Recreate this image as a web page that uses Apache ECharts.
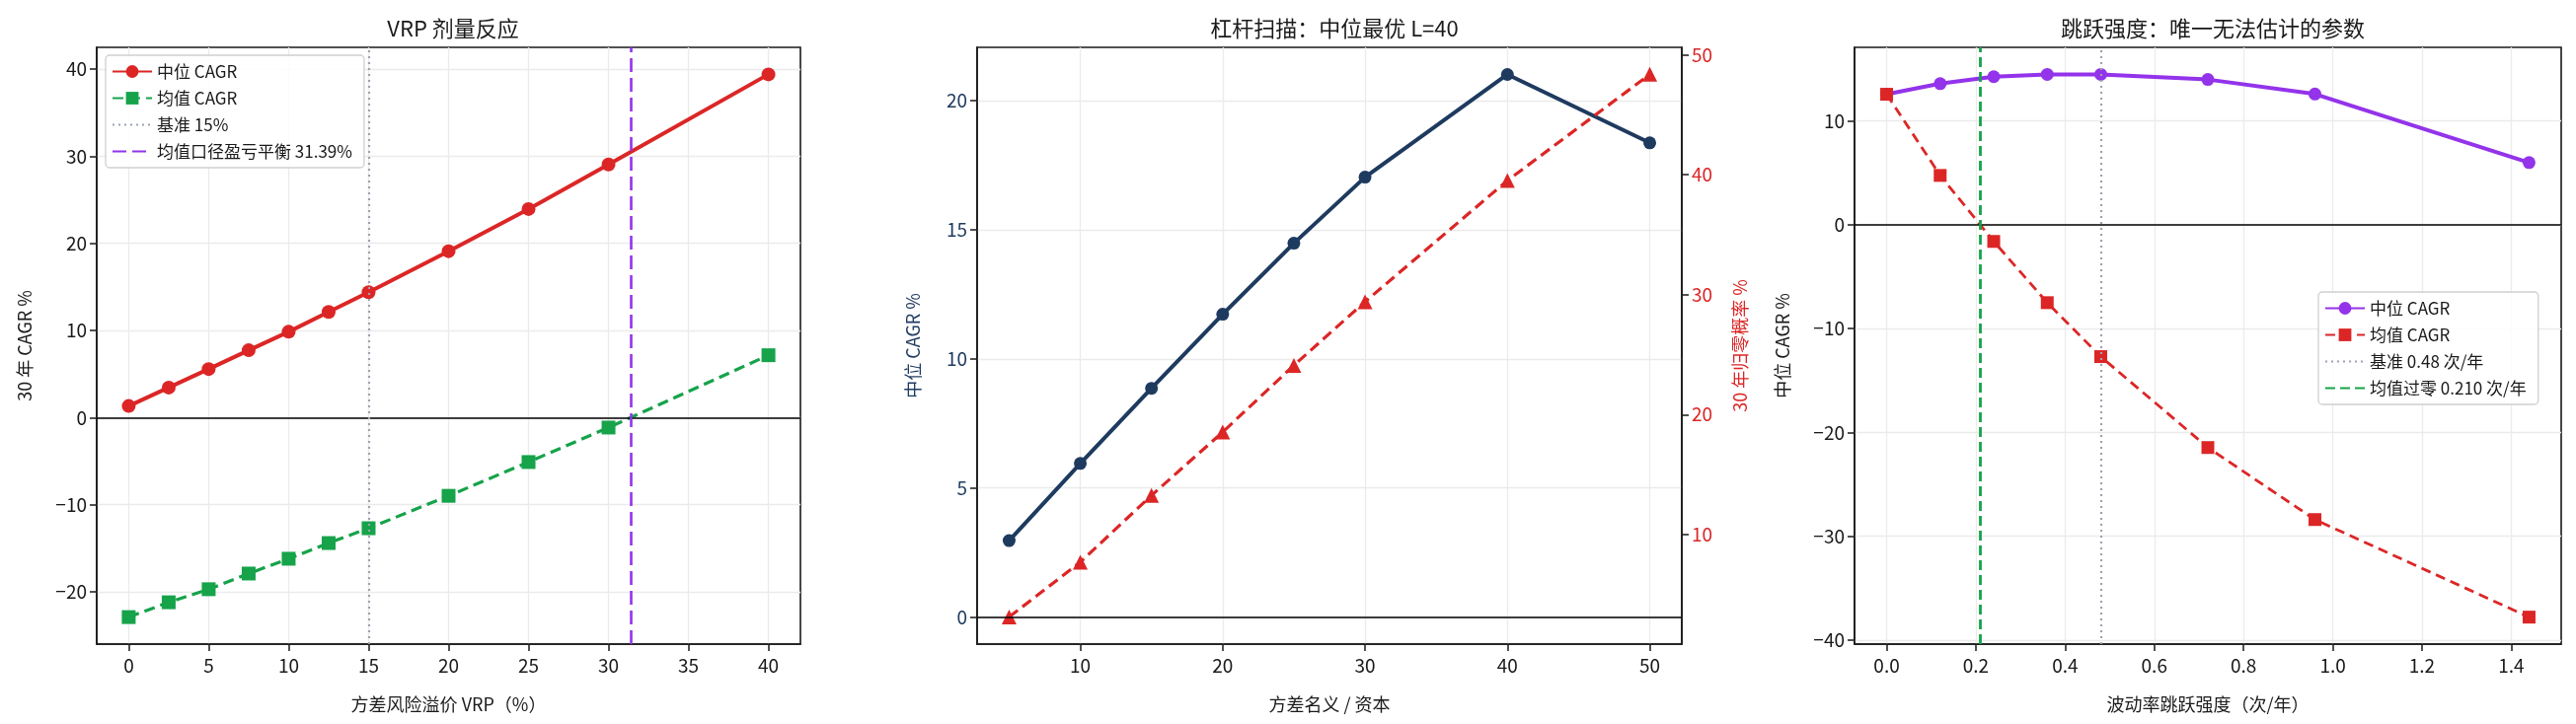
<!DOCTYPE html>
<html><head><meta charset="utf-8">
<script src="https://cdn.jsdelivr.net/npm/echarts@6/dist/echarts.min.js"></script>
<style>html,body{margin:0;padding:0;background:#fff}#c{width:2610px;height:734px}</style>
</head><body><div id="c"></div>
<script>
// ---- data ----
const vrpX = [0, 2.5, 5, 7.5, 10, 12.5, 15, 20, 25, 30, 40];
const vrpMedian = [1.33, 3.45, 5.57, 7.73, 9.85, 12.12, 14.4, 19.1, 23.94, 29.06, 39.4];
const vrpMean = [-22.9, -21.2, -19.7, -17.9, -16.2, -14.4, -12.7, -8.98, -5.1, -1.14, 7.16];
const vrpBase = 15;
const vrpBreakeven = 31.39;

const levX = [5, 10, 15, 20, 25, 30, 40, 50];
const levMedian = [2.96, 5.95, 8.86, 11.73, 14.48, 17.04, 21.02, 18.37];
const levRuin = [3.13, 7.7, 13.26, 18.54, 24.1, 29.4, 39.5, 48.35];

const jumpX = [0, 0.12, 0.24, 0.36, 0.48, 0.72, 0.96, 1.44];
const jumpMedian = [12.58, 13.6, 14.27, 14.49, 14.49, 14.0, 12.6, 6.0];
const jumpMean = [12.58, 4.76, -1.6, -7.5, -12.7, -21.46, -28.4, -37.8];
const jumpBase = 0.48;
const jumpZero = 0.210;

// tick values
const vrpXTicks = [0, 5, 10, 15, 20, 25, 30, 35, 40];
const vrpYTicks = [-20, -10, 0, 10, 20, 30, 40];
const levXTicks = [10, 20, 30, 40, 50];
const levYTicks = [0, 5, 10, 15, 20];
const levY2Ticks = [10, 20, 30, 40, 50];
const jumpXTicks = [0, 0.2, 0.4, 0.6, 0.8, 1.0, 1.2, 1.4];
const jumpYTicks = [-40, -30, -20, -10, 0, 10];

// text
const titles = ['VRP 剂量反应', '杠杆扫描：中位最优 L=40', '跳跃强度：唯一无法估计的参数'];
const xNames = ['方差风险溢价 VRP（%）', '方差名义 / 资本', '波动率跳跃强度（次/年）'];
const yNames = ['30 年 CAGR %', '中位 CAGR %', '30 年归零概率 %', '中位 CAGR %'];

// ---- style ----
const FONT = '"Noto Sans CJK SC", "Noto Sans", sans-serif';
const INK = '#1a1a1a';
const RED = '#dc2626', GREEN = '#16a34a', PURPLE = '#9333ea', NAVY = '#1e3a5f', GRAY = '#9ca3af';
const GRID_C = '#ebebeb';

const grids = [
  {left: 98, top: 48, width: 713, height: 605},
  {left: 990, top: 48, width: 714, height: 605},
  {left: 1879, top: 48, width: 716, height: 605}
].map(g => Object.assign(g, {show: true, borderColor: INK, borderWidth: 1.6, containLabel: false, outerBoundsMode: 'none'}));

const minus = v => String(v).replace('-', '\u2212');

function xAx(gi, min, max, ticks, name, fmt) {
  return {
    type: 'value', gridIndex: gi, min, max, name, nameLocation: 'middle', nameGap: 52,
    nameTextStyle: {fontFamily: FONT, fontSize: 18, color: INK},
    axisLine: {show: true, onZero: false, lineStyle: {color: INK, width: 1.6}},
    axisTick: {show: true, inside: false, length: 7, lineStyle: {color: INK, width: 1.5}, customValues: ticks},
    axisLabel: {customValues: ticks, margin: 12, fontFamily: FONT, fontSize: 19, color: INK, formatter: fmt || minus},
    splitLine: {show: true, lineStyle: {color: GRID_C, width: 1.3}}
  };
}
function yAx(gi, min, max, ticks, name, gap, opts) {
  opts = opts || {};
  return {
    type: 'value', gridIndex: gi, min, max, name, nameLocation: 'middle', nameGap: gap, nameRotate: 90,
    position: opts.position || 'left',
    nameTextStyle: {fontFamily: FONT, fontSize: 18, color: opts.nameColor || INK},
    axisLine: {show: true, onZero: false, lineStyle: {color: INK, width: 1.6}},
    axisTick: {show: true, inside: false, length: 7, lineStyle: {color: INK, width: 1.5}, customValues: ticks},
    axisLabel: {customValues: ticks, margin: 10, fontFamily: FONT, fontSize: 19, color: opts.labelColor || INK, formatter: minus},
    splitLine: {show: opts.split !== false, lineStyle: {color: GRID_C, width: 1.3}}
  };
}

const pts = (xs, ys) => xs.map((x, i) => [x, ys[i]]);

function vline(name, xi, yi, x, color, type, width) {
  return {
    type: 'line', name, xAxisIndex: xi, yAxisIndex: yi, data: [], symbol: 'none',
    lineStyle: {color, width, type}, itemStyle: {color, opacity: 0}, z: 4,
    markLine: {silent: true, symbol: ['none', 'none'], label: {show: false}, animation: false,
      lineStyle: {color, width, type, opacity: 1}, data: [{xAxis: x}]}
  };
}
function hzero(xi, yi) {
  return {
    type: 'line', name: 'zero' + xi, xAxisIndex: xi, yAxisIndex: yi, data: [], symbol: 'none', z: 2,
    markLine: {silent: true, symbol: ['none', 'none'], label: {show: false}, animation: false,
      lineStyle: {color: '#000', width: 1.7, type: 'solid'}, data: [{yAxis: 0}]}
  };
}

const legendCommon = {
  orient: 'vertical', itemWidth: 40, itemHeight: 16, itemGap: 10,
  padding: [8, 12, 8, 6], backgroundColor: 'rgba(255,255,255,0.85)',
  borderColor: '#cfcfcf', borderWidth: 1.3, borderRadius: 4,
  textStyle: {fontFamily: FONT, fontSize: 17, color: INK}
};
const noSym = name => ({name, itemStyle: {opacity: 0}});

const Z = '\u200b'; // distinguishes panel-3 legend names

const option = {
  backgroundColor: '#fff',
  animation: false,
  textStyle: {fontFamily: FONT},
  title: titles.map((t, i) => ({
    text: t, left: [454, 1347, 2237][i], top: 13, textAlign: 'center',
    textStyle: {fontFamily: FONT, fontSize: 22, fontWeight: 'normal', color: INK}
  })),
  grid: grids,
  legend: [
    Object.assign({left: 107, top: 56, data: ['中位 CAGR', '均值 CAGR', noSym('基准 15%'), noSym('均值口径盈亏平衡 31.39%')]}, legendCommon),
    Object.assign({left: 2349, top: 296, data: ['中位 CAGR' + Z, '均值 CAGR' + Z, noSym('基准 0.48 次/年'), noSym('均值过零 0.210 次/年')]}, legendCommon)
  ],
  xAxis: [
    xAx(0, -2, 42, vrpXTicks, xNames[0]),
    xAx(1, 2.75, 52.25, levXTicks, xNames[1]),
    xAx(2, -0.072, 1.512, jumpXTicks, xNames[2], v => v.toFixed(1))
  ],
  yAxis: [
    yAx(0, -26.0, 42.5, vrpYTicks, yNames[0], 64),
    yAx(1, -1.05, 22.07, levYTicks, yNames[1], 56, {nameColor: NAVY, labelColor: NAVY}),
    yAx(1, 0.87, 50.6, levY2Ticks, yNames[2], 50, {position: 'right', nameColor: RED, labelColor: RED, split: false}),
    yAx(2, -40.4, 17.1, jumpYTicks, yNames[3], 64)
  ],
  series: [
    // panel 1
    hzero(0, 0),
    {type: 'line', name: '中位 CAGR', xAxisIndex: 0, yAxisIndex: 0, data: pts(vrpX, vrpMedian),
      symbol: 'circle', symbolSize: 14, lineStyle: {color: RED, width: 4}, itemStyle: {color: RED}, z: 3},
    {type: 'line', name: '均值 CAGR', xAxisIndex: 0, yAxisIndex: 0, data: pts(vrpX, vrpMean),
      symbol: 'rect', symbolSize: 14, lineStyle: {color: GREEN, width: 3.2, type: [11, 6]}, itemStyle: {color: GREEN}, z: 3},
    vline('基准 15%', 0, 0, vrpBase, GRAY, [2, 4], 2.2),
    vline('均值口径盈亏平衡 31.39%', 0, 0, vrpBreakeven, PURPLE, [14, 6], 2.6),
    // panel 2
    hzero(1, 1),
    {type: 'line', name: 'levMedian', xAxisIndex: 1, yAxisIndex: 1, data: pts(levX, levMedian),
      symbol: 'circle', symbolSize: 13, lineStyle: {color: NAVY, width: 4}, itemStyle: {color: NAVY}, z: 3},
    {type: 'line', name: 'levRuin', xAxisIndex: 1, yAxisIndex: 2, data: pts(levX, levRuin),
      symbol: 'triangle', symbolSize: 15, lineStyle: {color: RED, width: 3.2, type: [11, 6]}, itemStyle: {color: RED}, z: 3},
    // panel 3
    hzero(2, 3),
    {type: 'line', name: '中位 CAGR' + Z, xAxisIndex: 2, yAxisIndex: 3, data: pts(jumpX, jumpMedian),
      symbol: 'circle', symbolSize: 13, lineStyle: {color: PURPLE, width: 4}, itemStyle: {color: PURPLE}, z: 3},
    {type: 'line', name: '均值 CAGR' + Z, xAxisIndex: 2, yAxisIndex: 3, data: pts(jumpX, jumpMean),
      symbol: 'rect', symbolSize: 13, lineStyle: {color: RED, width: 2.8, type: [10, 6]}, itemStyle: {color: RED}, z: 3},
    vline('基准 0.48 次/年', 2, 3, jumpBase, GRAY, [2, 4], 2.2),
    vline('均值过零 0.210 次/年', 2, 3, jumpZero, GREEN, [10, 5], 2.8)
  ]
};

const chart = echarts.init(document.getElementById('c'), null, {renderer: 'canvas'});
chart.setOption(option);
</script>
</body></html>
